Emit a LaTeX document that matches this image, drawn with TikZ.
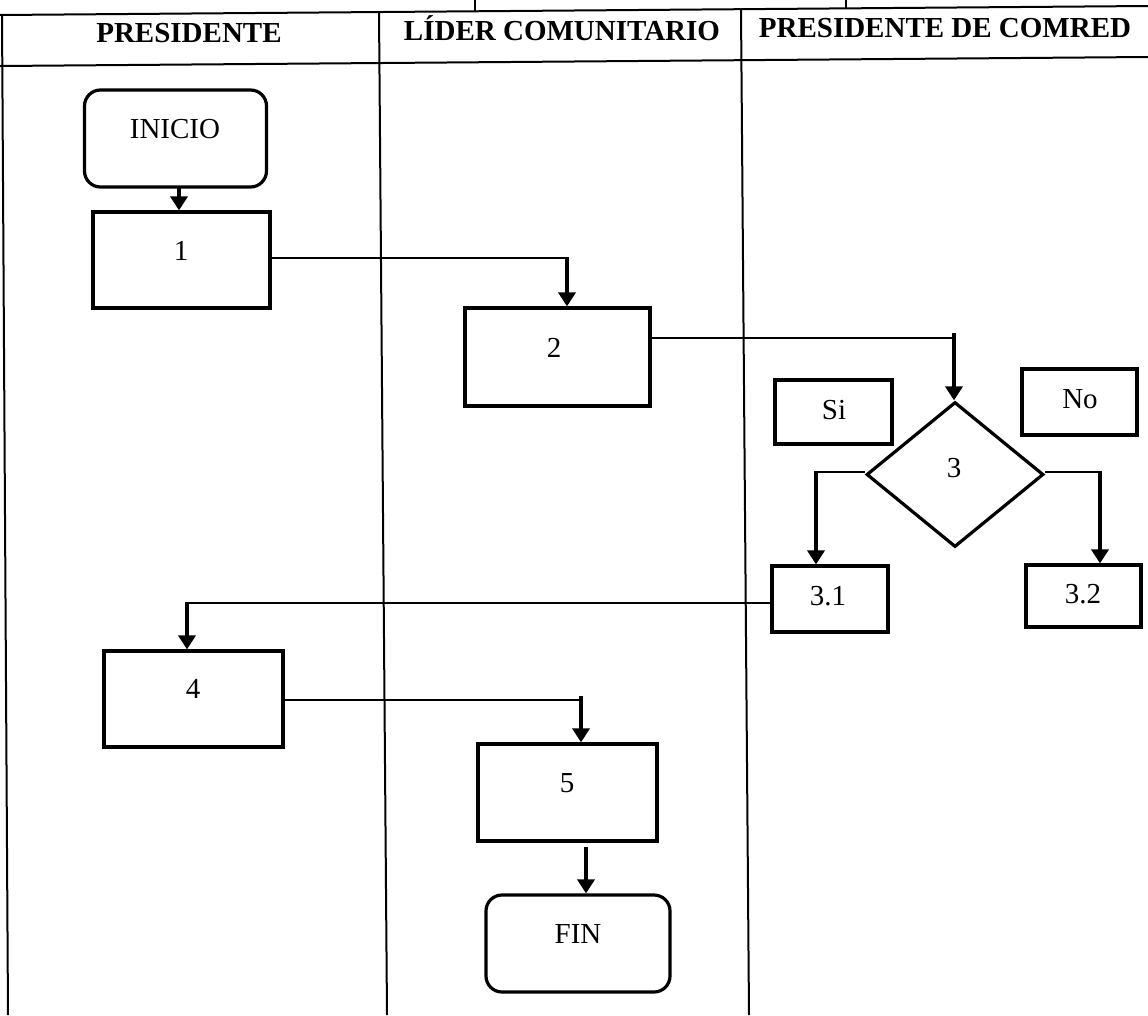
\documentclass[tikz,border=0pt]{standalone}
\usepackage{fontspec}
\setmainfont{Liberation Serif}
\usetikzlibrary{arrows.meta,shapes.geometric}
\begin{document}
\begin{tikzpicture}[x=1pt,y=-1pt,
  gridline/.style={line width=2pt},
  boxshape/.style={draw, line width=3.2pt, inner sep=0pt},
  termshape/.style={boxshape, rounded corners=16pt},
  txt/.style={font=\fontsize{29}{35}\selectfont, inner sep=0pt, anchor=base},
  hdr/.style={font=\fontsize{29}{35}\selectfont\bfseries, inner sep=0pt, anchor=base},
  thinline/.style={line width=1.5pt},
  arr/.style={line width=3.8pt, -{Triangle[length=14pt,width=17pt]}}
]
\useasboundingbox (0,0) rectangle (1148,1015);

% table grid (scan slightly rotated)
\draw[gridline] (0,15) -- (1148,6);
\draw[gridline] (0,66) -- (1148,57);
\draw[gridline] (2,15) -- (8,1015);
\draw[gridline] (379,12) -- (387,1015);
\draw[gridline] (741,10) -- (749,1015);
\draw[gridline] (475,0) -- (475,12);
\draw[gridline] (846,0) -- (846,9);

% headers
\node[hdr] (h1) at (189,42) {PRESIDENTE};
\node[hdr] (h2) at (562,40) {LÍDER COMUNITARIO};
\node[hdr] (h3) at (945,37) {PRESIDENTE DE COMRED};

% shapes
\node[termshape, minimum width=182pt, minimum height=97pt] (ini) at (175.5,138.5) {};
\node[boxshape, minimum width=177pt, minimum height=96pt] (b1) at (181.5,260) {};
\node[boxshape, minimum width=185pt, minimum height=98pt] (b2) at (557.5,357) {};
\node[boxshape, diamond, minimum width=177pt, minimum height=145pt] (d3) at (955,474.5) {};
\node[boxshape, minimum width=117pt, minimum height=64pt] (si) at (833.5,412) {};
\node[boxshape, minimum width=115pt, minimum height=66pt] (no) at (1079.5,402) {};
\node[boxshape, minimum width=116pt, minimum height=66pt] (b31) at (830,599) {};
\node[boxshape, minimum width=115pt, minimum height=62pt] (b32) at (1083.5,596) {};
\node[boxshape, minimum width=179pt, minimum height=96pt] (b4) at (193.5,699) {};
\node[boxshape, minimum width=179pt, minimum height=97pt] (b5) at (567.5,792.5) {};
\node[termshape, minimum width=184pt, minimum height=97pt] (fin) at (578,943.5) {};

% texts
\node[txt] (tini) at (175,138) {INICIO};
\node[txt] (t1) at (181,260) {1};
\node[txt] (t2) at (554,357) {2};
\node[txt] (t3) at (954,477) {3};
\node[txt] (tsi) at (834,419) {Si};
\node[txt] (tno) at (1080,408) {No};
\node[txt] (t31) at (828,605) {3.1};
\node[txt] (t32) at (1083,603) {3.2};
\node[txt] (t4) at (193,698) {4};
\node[txt] (t5) at (567,792) {5};
\node[txt] (tfin) at (578,943) {FIN};

% connectors
\coordinate (k0) at (179,187);
\draw[arr] (k0) -- (k0 |- b1.north);

\coordinate (k1) at (567,258);
\draw[thinline] (k1 -| b1.east) -- (k1);
\draw[arr] ([yshift=1pt]k1) -- (k1 |- b2.north);

\coordinate (k2) at (954,338);
\draw[thinline] (k2 -| b2.east) -- (k2);
\draw[arr] ([yshift=5pt]k2) -- (k2 |- d3.north);

\coordinate (k3) at (816,472);
\draw[thinline] (k3 -| d3.west) -- (k3);
\draw[arr] ([yshift=1pt]k3) -- (k3 |- b31.north);

\coordinate (k4) at (1100,472);
\draw[thinline] (k4 -| d3.east) -- (k4);
\draw[arr] ([yshift=1pt]k4) -- (k4 |- b32.north);

\coordinate (k5) at (187,603);
\draw[thinline] (k5 -| b31.west) -- (k5);
\draw[arr] ([yshift=1pt]k5) -- (k5 |- b4.north);

\coordinate (k6) at (581,700);
\draw[thinline] (k6 -| b4.east) -- (k6);
\draw[arr] ([yshift=4pt]k6) -- (k6 |- b5.north);

\coordinate (k7) at (586,847);
\draw[arr] (k7) -- (k7 |- fin.north);
\end{tikzpicture}
\end{document}
